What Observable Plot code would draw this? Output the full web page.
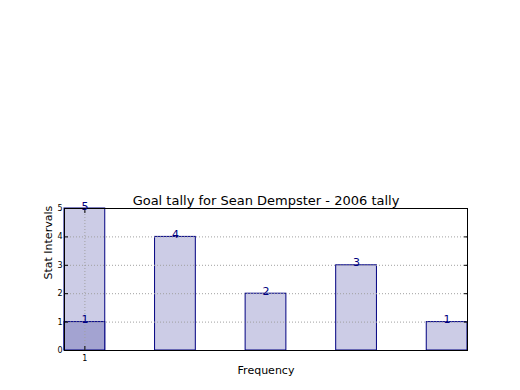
<!DOCTYPE html>
<html>
<head>
<meta charset="utf-8">
<script src="https://cdn.jsdelivr.net/npm/d3@7"></script>
<script src="https://cdn.jsdelivr.net/npm/@observablehq/plot@0.6"></script>
<style>
  body { margin: 0; background: #fff; }
  svg { font-family: "DejaVu Sans", sans-serif; }
</style>
</head>
<body>
<div id="chart"></div>
<script>
const positions = [1, 2, 3, 4, 5];
const tallies = [5, 4, 2, 3, 1];
const overlayPositions = [1];
const overlayValues = [1];
const xTicks = [1];
const yTicks = [0, 1, 2, 3, 4, 5];
const title = "Goal tally for Sean Dempster - 2006 tally";
const xLabel = "Frequency";
const yLabel = "Stat Intervals";

const barHalf = 0.225;
const xMin = 1 - barHalf, xMax = 5 + barHalf;
const bars = positions.map((p, i) => ({x: p, y: tallies[i]}));
const overlay = overlayPositions.map((p, i) => ({x: p, y: overlayValues[i]}));
const labels = bars.concat(overlay);

const chart = Plot.plot({
  width: 520,
  height: 390,
  marginLeft: 64,
  marginRight: 53,
  marginTop: 208,
  marginBottom: 40,
  style: {fontFamily: "DejaVu Sans, sans-serif", background: "white"},
  x: {domain: [xMin, xMax]},
  y: {domain: [0, 5]},
  marks: [
    Plot.rect(bars, {x1: d => d.x - barHalf, x2: d => d.x + barHalf, y1: () => 0, y2: d => d.y, fill: "#ccccE6", stroke: "#000080", strokeWidth: 1}),
    Plot.rect(overlay, {x1: d => d.x - barHalf, x2: d => d.x + barHalf, y1: () => 0, y2: d => d.y, fill: "#a3a3d1", stroke: "#000080", strokeWidth: 1}),
    Plot.gridY(yTicks.slice(1, -1), {stroke: "#a0a0a0", strokeOpacity: 1, strokeDasharray: "1,2"}),
    Plot.gridX(xTicks, {stroke: "#a0a0a0", strokeOpacity: 1, strokeDasharray: "1,2"}),
    Plot.frame({stroke: "black", strokeWidth: 1}),
    Plot.axisY(yTicks, {anchor: "left", tickSize: 0, tickPadding: 2, fontSize: 8, color: "black", label: null}),
    Plot.axisY(yTicks, {anchor: "left", tickSize: -4, text: null, label: null}),
    Plot.axisY(yTicks, {anchor: "right", tickSize: -4, text: null, label: null}),
    Plot.axisX(xTicks, {anchor: "bottom", tickSize: 0, tickPadding: 5, fontSize: 8, color: "black", label: null}),
    Plot.axisX(xTicks, {anchor: "bottom", tickSize: -4, text: null, label: null}),
    Plot.axisX(xTicks, {anchor: "top", tickSize: -4, text: null, label: null}),
    Plot.text(labels, {x: d => d.x, y: d => d.y, text: d => String(d.y), dy: 1, fontSize: 11, fill: "#000080", lineAnchor: "bottom"}),
    Plot.text([title], {frameAnchor: "top", dy: -13, fontSize: 13, fill: "black"}),
    Plot.text([xLabel], {frameAnchor: "bottom", dy: 20, fontSize: 11, fill: "black", lineAnchor: "middle"}),
    Plot.text([yLabel], {frameAnchor: "left", dx: -16, rotate: -90, fontSize: 11, fill: "black"})
  ]
});
document.getElementById("chart").appendChild(chart);
</script>
</body>
</html>
